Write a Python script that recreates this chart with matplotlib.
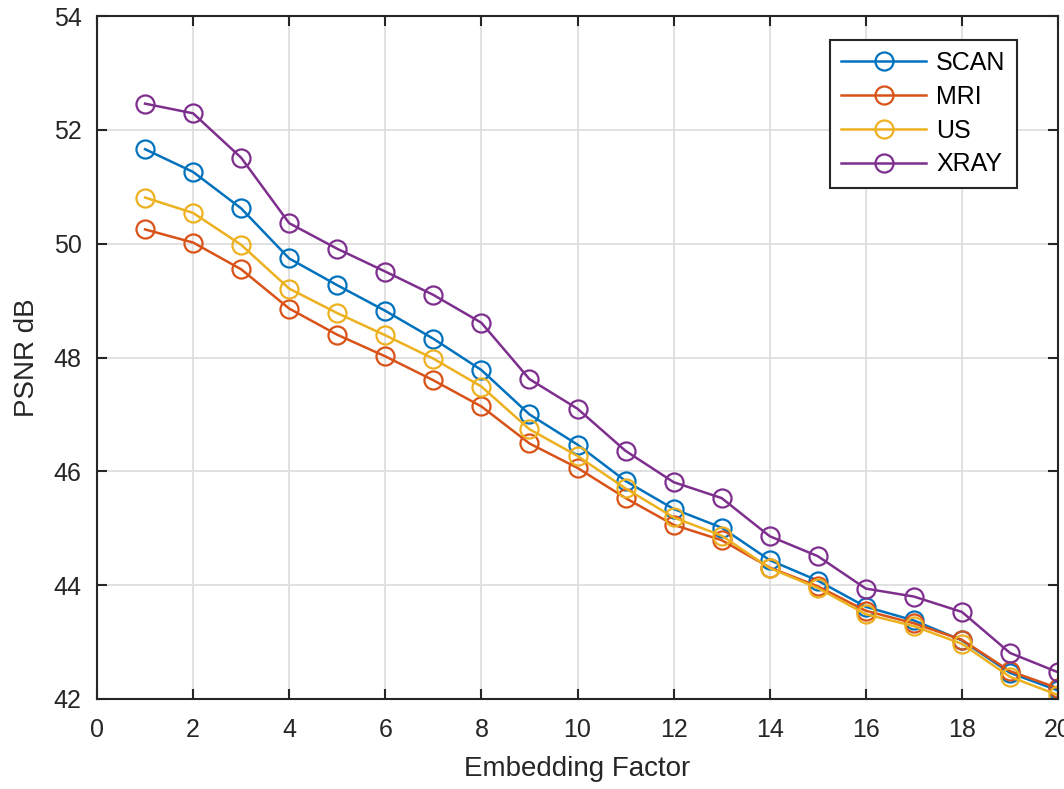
import numpy as np
import matplotlib.pyplot as plt

plt.rcParams['font.family'] = ['Liberation Sans', 'DejaVu Sans']

# embedding factor
factor = list(range(1, 21))

scan = [51.66, 51.26, 50.62, 49.74, 49.27, 48.82, 48.33, 47.78, 47.00, 46.47,
        45.83, 45.34, 45.01, 44.44, 44.08, 43.62, 43.38, 43.03, 42.46, 42.15]
mri = [50.25, 50.02, 49.55, 48.86, 48.40, 48.02, 47.60, 47.14, 46.49, 46.06,
       45.53, 45.06, 44.79, 44.31, 43.98, 43.55, 43.33, 43.04, 42.49, 42.19]
us = [50.81, 50.54, 49.98, 49.21, 48.78, 48.39, 47.98, 47.49, 46.74, 46.27,
      45.70, 45.19, 44.87, 44.30, 43.95, 43.49, 43.28, 42.97, 42.39, 42.07]
xray = [52.46, 52.29, 51.51, 50.36, 49.91, 49.51, 49.10, 48.61, 47.62, 47.10,
        46.36, 45.81, 45.53, 44.86, 44.51, 43.94, 43.80, 43.53, 42.81, 42.47]

names = ['SCAN', 'MRI', 'US', 'XRAY']
colors = ['#0072BD', '#D95319', '#EDB120', '#7E2F8E']

fig = plt.figure(figsize=(10.64, 7.89), dpi=100)
ax = fig.add_axes([97/1064, 1 - 699/789, (1058-97)/1064, (699-16)/789])

for y, name, c in zip([scan, mri, us, xray], names, colors):
    ax.plot(factor, y, '-o', color=c, label=name, lw=1.8,
            markersize=13, markerfacecolor='none', markeredgewidth=1.6)

ax.set_xlim(0, 20)
ax.set_ylim(42, 54)
ax.set_xticks(range(0, 21, 2))
ax.set_yticks(range(42, 55, 2))
ax.grid(True, color='#dedede', lw=1.3)
ax.set_axisbelow(True)
ax.tick_params(direction='in', top=True, right=True, length=7, width=1.5,
               labelsize=18, colors='#262626')
ax.tick_params(axis='x', pad=14)
ax.tick_params(axis='y', pad=11)
for s in ax.spines.values():
    s.set_linewidth(1.5)
    s.set_color('#262626')

ax.set_xlabel('Embedding Factor', fontsize=20, color='#262626', labelpad=10)
ax.set_ylabel('PSNR dB', fontsize=20, color='#262626', labelpad=10)

leg = ax.legend(loc='upper right', bbox_to_anchor=(0.957, 0.965), fontsize=18,
                fancybox=False, edgecolor='#262626', framealpha=1,
                handlelength=3.4, handletextpad=0.4, borderpad=0.45,
                labelspacing=0.39, borderaxespad=0)
leg.get_frame().set_linewidth(1.5)

fig.savefig('out.png', dpi=100)
